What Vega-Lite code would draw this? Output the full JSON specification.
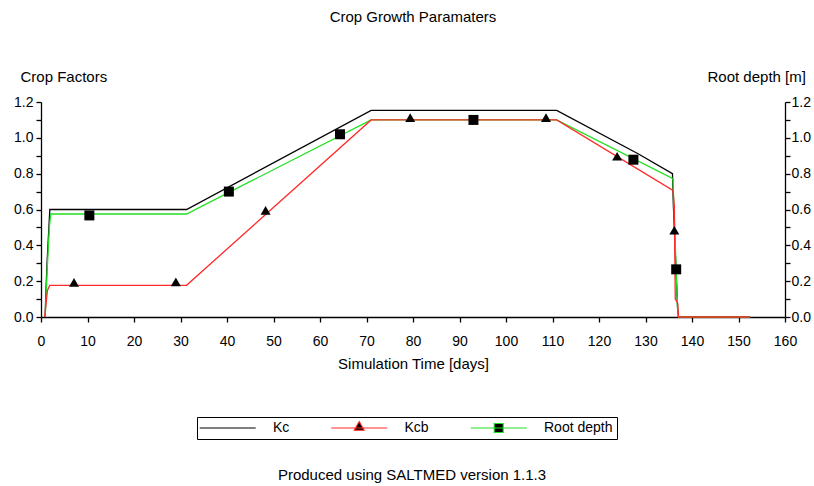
{
  "$schema": "https://vega.github.io/schema/vega-lite/v6.json",
  "background": "white",
  "padding": {"left": 13, "top": 9, "right": 5, "bottom": 0},
  "title": {"text": "Produced using SALTMED version 1.1.3", "orient": "bottom", "anchor": "middle", "fontSize": 15, "fontWeight": "normal", "font": "Liberation Sans", "color": "black", "offset": 28},
  "config": {
    "view": {"stroke": null},
    "font": "Liberation Sans",
    "axis": {"domainColor": "black", "tickColor": "black", "labelColor": "black", "titleColor": "black", "labelFont": "Liberation Sans", "titleFont": "Liberation Sans", "labelFontSize": 14, "titleFontSize": 15, "titleFontWeight": "normal", "grid": false, "tickSize": 5, "domainWidth": 1.3, "tickWidth": 1.3}
  },
  "vconcat": [
    {
      "width": 744,
      "height": 215,
      "title": {"text": "Crop Growth Paramaters", "anchor": "middle", "fontSize": 15, "fontWeight": "normal", "font": "Liberation Sans", "color": "black", "offset": 45},
      "resolve": {"axis": {"y": "independent"}},
      "layer": [
        {
          "data": {"values": [
            {"series": "Kc", "day": 0.9, "v": 0},
            {"series": "Kc", "day": 1.0, "v": 0.1},
            {"series": "Kc", "day": 1.3, "v": 0.3},
            {"series": "Kc", "day": 1.9, "v": 0.6},
            {"series": "Kc", "day": 31.3, "v": 0.6},
            {"series": "Kc", "day": 71, "v": 1.153},
            {"series": "Kc", "day": 110.9, "v": 1.153},
            {"series": "Kc", "day": 128.5, "v": 0.91},
            {"series": "Kc", "day": 135.8, "v": 0.8},
            {"series": "Kc", "day": 136.0, "v": 0.62},
            {"series": "Kc", "day": 136.9, "v": 0.05},
            {"series": "Kc", "day": 137.1, "v": 0},
            {"series": "Kc", "day": 152.5, "v": 0},
            {"series": "Root depth", "day": 0.9, "v": 0},
            {"series": "Root depth", "day": 1.3, "v": 0.25},
            {"series": "Root depth", "day": 1.8, "v": 0.5},
            {"series": "Root depth", "day": 2.1, "v": 0.575},
            {"series": "Root depth", "day": 31.3, "v": 0.575},
            {"series": "Root depth", "day": 71, "v": 1.1},
            {"series": "Root depth", "day": 110.9, "v": 1.1},
            {"series": "Root depth", "day": 135.9, "v": 0.772},
            {"series": "Root depth", "day": 136.2, "v": 0.55},
            {"series": "Root depth", "day": 136.9, "v": 0.05},
            {"series": "Root depth", "day": 137.1, "v": 0},
            {"series": "Root depth", "day": 152.5, "v": 0},
            {"series": "Kcb", "day": 0.8, "v": 0},
            {"series": "Kcb", "day": 1.1, "v": 0.08},
            {"series": "Kcb", "day": 1.4, "v": 0.15},
            {"series": "Kcb", "day": 1.9, "v": 0.177},
            {"series": "Kcb", "day": 31.3, "v": 0.177},
            {"series": "Kcb", "day": 71, "v": 1.1},
            {"series": "Kcb", "day": 110.9, "v": 1.1},
            {"series": "Kcb", "day": 135.9, "v": 0.707},
            {"series": "Kcb", "day": 136.2, "v": 0.62},
            {"series": "Kcb", "day": 136.4, "v": 0.1},
            {"series": "Kcb", "day": 136.9, "v": 0.08},
            {"series": "Kcb", "day": 137.1, "v": 0},
            {"series": "Kcb", "day": 152.5, "v": 0}
          ]},
          "mark": {"type": "line", "strokeWidth": 1.3},
          "encoding": {
            "x": {"field": "day", "type": "quantitative", "scale": {"domain": [0, 160], "nice": false},
              "axis": {"title": "Simulation Time [days]", "values": [0,5,10,15,20,25,30,35,40,45,50,55,60,65,70,75,80,85,90,95,100,105,110,115,120,125,130,135,140,145,150,155,160],
                "labelExpr": "datum.value % 10 === 0 ? datum.label : ''", "labelPadding": 12, "titlePadding": 8, "labelFlush": false, "labelOverlap": false}},
            "y": {"field": "v", "type": "quantitative", "scale": {"domain": [0, 1.2], "nice": false},
              "axis": {"orient": "left", "title": "Crop Factors", "titleAngle": 0, "titleAlign": "left", "titleBaseline": "alphabetic", "titleX": -21, "titleY": -20.5,
                "values": [0,0.1,0.2,0.3,0.4,0.5,0.6,0.7,0.8,0.9,1.0,1.1,1.2], "format": ".1f",
                "labelExpr": "round(datum.value * 10) % 2 === 0 ? datum.label : ''", "labelPadding": 3, "labelFlush": false, "labelOverlap": false}},
            "stroke": {"field": "series", "type": "nominal",
              "scale": {"domain": ["Kc", "Kcb", "Root depth"], "range": ["#000000", "#ff2a2a", "#22e022"]},
              "legend": {"orient": "none", "legendX": 156, "legendY": 315, "direction": "horizontal", "title": null,
                "strokeColor": "black", "padding": 4, "symbolSize": 100, "symbolStrokeWidth": 1.1,
                "labelFontSize": 14, "labelFont": "Liberation Sans", "labelColor": "black", "labelOffset": 58, "columnPadding": 38.5,
                "encode": {"symbols": {"update": {
                  "shape": {"signal": "datum.value === 'Kcb' ? 'M-1.66,0H9.54M3.94,-1.3L4.94,0.45L2.94,0.45Z' : datum.value === 'Root depth' ? 'M-1.66,0H9.54M3.04,-0.9H4.84V0.9H3.04Z' : 'M-1.66,0H9.54'"},
                  "fill": {"value": "black"},
                  "strokeWidth": {"value": 1.1}
                }}}}}
          }
        },
        {
          "data": {"values": [
            {"m": "tri", "day": 7.1, "v": 0.193},
            {"m": "tri", "day": 29.0, "v": 0.196},
            {"m": "tri", "day": 48.3, "v": 0.595},
            {"m": "tri", "day": 79.4, "v": 1.113},
            {"m": "tri", "day": 108.6, "v": 1.113},
            {"m": "tri", "day": 123.9, "v": 0.897},
            {"m": "tri", "day": 136.2, "v": 0.484},
            {"m": "sq", "day": 10.4, "v": 0.567},
            {"m": "sq", "day": 40.4, "v": 0.70},
            {"m": "sq", "day": 64.3, "v": 1.02},
            {"m": "sq", "day": 93.0, "v": 1.10},
            {"m": "sq", "day": 127.4, "v": 0.878},
            {"m": "sq", "day": 136.6, "v": 0.266}
          ]},
          "mark": {"type": "point", "filled": true, "color": "black", "opacity": 1, "size": 100},
          "encoding": {
            "x": {"field": "day", "type": "quantitative"},
            "y": {"field": "v", "type": "quantitative",
              "axis": {"orient": "right", "title": "Root depth [m]", "titleAngle": 0, "titleAlign": "left", "titleBaseline": "alphabetic", "titleX": -78, "titleY": -20.5,
                "values": [0,0.1,0.2,0.3,0.4,0.5,0.6,0.7,0.8,0.9,1.0,1.1,1.2], "format": ".1f",
                "labelExpr": "round(datum.value * 10) % 2 === 0 ? datum.label : ''", "labelPadding": 1, "labelFlush": false, "labelOverlap": false}},
            "shape": {"field": "m", "type": "nominal", "scale": {"domain": ["tri", "sq"], "range": ["triangle-up", "square"]}, "legend": null}
          }
        }
      ]
    }
  ]
}
